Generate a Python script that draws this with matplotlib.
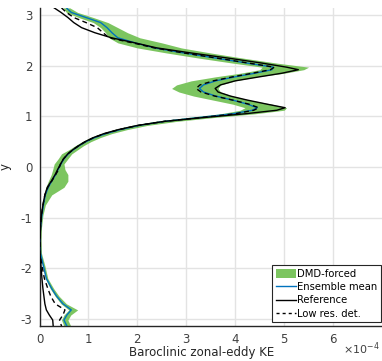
import numpy as np
import matplotlib
matplotlib.use("Agg")
import matplotlib.pyplot as plt
from matplotlib.patches import Patch
from matplotlib.lines import Line2D

plt.rcParams['axes.unicode_minus'] = False

# latitude-like coordinate y (descending)
y = [3.14, 3.05, 2.95, 2.85, 2.75, 2.65, 2.55, 2.45, 2.35, 2.25, 2.15, 2.05, 1.97, 1.92,
     1.85, 1.78, 1.70, 1.62, 1.55, 1.48, 1.40, 1.32, 1.24, 1.17, 1.12, 1.05, 0.98, 0.90,
     0.82, 0.74, 0.66, 0.58, 0.50, 0.42, 0.34, 0.26, 0.16, 0.06, -0.05, -0.15, -0.28,
     -0.40, -0.55, -0.75, -0.95, -1.20, -1.45, -1.70, -1.95, -2.20, -2.40, -2.55, -2.70,
     -2.82, -2.92, -3.02, -3.14]

# values in units of 1e-4
reference = [0.30, 0.44, 0.58, 0.70, 0.86, 1.13, 1.47, 1.95, 2.40, 3.10, 3.85, 4.55, 5.05, 5.29,
             4.95, 4.50, 4.00, 3.70, 3.59, 3.65, 3.90, 4.25, 4.65, 5.02, 4.85, 4.20, 3.40, 2.55,
             2.00, 1.62, 1.32, 1.10, 0.93, 0.80, 0.68, 0.58, 0.49, 0.43, 0.37, 0.32, 0.24,
             0.16, 0.11, 0.07, 0.04, 0.02, 0.01, 0.01, 0.03, 0.05, 0.07, 0.09, 0.11,
             0.14, 0.20, 0.27, 0.28]

ensemble_mean = [0.55, 0.65, 0.95, 1.25, 1.38, 1.48, 1.60, 1.95, 2.35, 2.95, 3.60, 4.25, 4.78, 4.75,
                 4.40, 4.00, 3.60, 3.35, 3.27, 3.35, 3.60, 3.95, 4.25, 4.45, 4.35, 3.95, 3.30, 2.55,
                 2.03, 1.66, 1.36, 1.13, 0.95, 0.81, 0.69, 0.59, 0.50, 0.44, 0.38, 0.33, 0.25,
                 0.18, 0.12, 0.08, 0.05, 0.02, 0.01, 0.02, 0.08, 0.14, 0.25, 0.35, 0.48,
                 0.65, 0.56, 0.50, 0.56]

low_res = [0.45, 0.55, 0.70, 0.95, 1.18, 1.30, 1.42, 1.90, 2.35, 2.95, 3.62, 4.28, 4.80, 4.72,
           4.35, 3.95, 3.55, 3.28, 3.20, 3.30, 3.58, 3.95, 4.28, 4.48, 4.38, 4.00, 3.35, 2.55,
           2.02, 1.64, 1.34, 1.11, 0.94, 0.80, 0.68, 0.58, 0.49, 0.43, 0.39, 0.33, 0.25,
           0.17, 0.11, 0.07, 0.04, 0.02, 0.01, 0.01, 0.05, 0.10, 0.17, 0.23, 0.32,
           0.52, 0.48, 0.41, 0.45]

dmd_lo = [0.48, 0.55, 0.80, 1.10, 1.25, 1.35, 1.42, 1.60, 2.00, 2.60, 3.25, 3.95, 4.55, 4.50,
          4.10, 3.60, 3.10, 2.80, 2.70, 2.85, 3.15, 3.55, 3.95, 4.20, 4.10, 3.70, 3.05, 2.35,
          1.88, 1.53, 1.26, 1.04, 0.87, 0.73, 0.60, 0.45, 0.38, 0.30, 0.27, 0.24, 0.18,
          0.13, 0.09, 0.06, 0.04, 0.02, 0.00, 0.00, 0.06, 0.12, 0.22, 0.32, 0.44,
          0.60, 0.50, 0.45, 0.50]

dmd_hi = [0.62, 0.78, 1.10, 1.40, 1.60, 1.80, 2.05, 2.50, 2.90, 3.50, 4.15, 4.85, 5.50, 5.40,
          5.00, 4.45, 4.00, 3.70, 3.65, 3.70, 3.95, 4.30, 4.75, 5.05, 5.00, 4.40, 3.60, 2.80,
          2.20, 1.80, 1.48, 1.24, 1.05, 0.90, 0.78, 0.66, 0.58, 0.50, 0.52, 0.58, 0.58,
          0.50, 0.25, 0.12, 0.07, 0.04, 0.03, 0.04, 0.11, 0.17, 0.29, 0.40, 0.55,
          0.78, 0.64, 0.58, 0.64]

labels = ["DMD-forced", "Ensemble mean", "Reference", "Low res. det."]
xticks = [0, 1, 2, 3, 4, 5, 6]
yticks = [-3, -2, -1, 0, 1, 2, 3]

scale = 1e-4
green = "#7cc560"
blue = "#0072bd"

fig = plt.figure(figsize=(3.82, 3.61), dpi=100)
ax = fig.add_axes([39.5 / 382, 34.8 / 361, (382 - 39.5) / 382, 318.4 / 361])

ya = np.array(y)
ax.fill_betweenx(ya, np.array(dmd_lo) * scale, np.array(dmd_hi) * scale,
                 color=green, linewidth=0, zorder=2)
ax.plot(np.array(ensemble_mean) * scale, ya, color=blue, lw=1.0, zorder=3)
ax.plot(np.array(reference) * scale, ya, color="black", lw=1.0, zorder=4)
ax.plot(np.array(low_res) * scale, ya, color="black", lw=1.0, ls=(0, (3.5, 2.5)), zorder=5)

ax.set_xlim(0, 7 * scale)
ax.set_ylim(-np.pi, np.pi)
ax.set_xticks([t * scale for t in xticks])
ax.set_xticklabels([str(t) for t in xticks])
ax.set_yticks(yticks)
ax.set_yticklabels([str(t) for t in yticks])

ax.grid(True, color="#e3e3e3", lw=1.0, zorder=0)
ax.set_axisbelow(True)
for s in ["top", "right"]:
    ax.spines[s].set_visible(False)
for s in ["left", "bottom"]:
    ax.spines[s].set_color("#262626")
    ax.spines[s].set_linewidth(1.0)
ax.tick_params(direction="in", length=0, labelsize=8.5, labelcolor="#404040", pad=5)

ax.set_xlabel("Baroclinic zonal-eddy KE", fontsize=8.5, color="#262626", labelpad=2)
ax.xaxis.set_label_coords(0.474, -0.062)
ax.set_ylabel("y", fontsize=8.5, color="#262626")
ax.yaxis.set_label_coords(-0.08, 0.5)
fig.text(0.995, 0.012, r"$\times10^{-4}$", ha="right", va="bottom", fontsize=8, color="#404040")

handles = [Patch(facecolor=green, edgecolor="none"),
           Line2D([], [], color=blue, lw=1.0),
           Line2D([], [], color="black", lw=1.0),
           Line2D([], [], color="black", lw=1.0, ls=(0, (2.2, 2.2)))]
leg = ax.legend(handles, labels, loc="lower right", bbox_to_anchor=(0.997, 0.013),
                borderaxespad=0, fontsize=7.2, frameon=True, fancybox=False,
                edgecolor="#262626", framealpha=1, handlelength=2.0, handletextpad=0.15,
                labelspacing=0.32, borderpad=0.35, handleheight=0.9)
leg.get_frame().set_linewidth(0.8)

fig.savefig("out.png", dpi=100)
